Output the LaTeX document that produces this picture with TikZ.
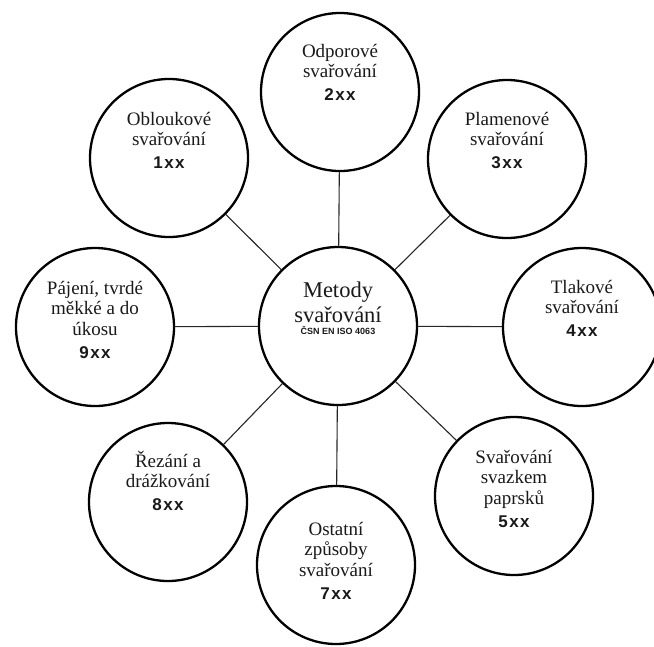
\documentclass[tikz,border=0pt]{standalone}
\usepackage{fontspec}
\setmainfont{Liberation Serif}
\newfontfamily\codefont[LetterSpace=8]{Liberation Sans}
\newfontfamily\normfont{Liberation Sans}

\tikzset{
  method/.style={circle, draw=black, line width=2.3pt, minimum size=158pt, inner sep=0pt},
  link/.style={line width=1.1pt, draw=black!85},
  caption/.style={anchor=base, inner sep=0pt, text=black!90},
}
% multi-line caption: first baseline is the node's base
\newcommand\mlines[1]{\parbox[t]{150pt}{\centering\fontsize{19}{20.5}\selectfont #1}}
\newcommand\code[1]{{\codefont\bfseries\fontsize{17}{20.5}\selectfont #1}}

\begin{document}
\begin{tikzpicture}[x=1pt, y=-1pt]
\useasboundingbox (0,0) rectangle (654,646);

% circles
\node[method] (c0) at (338,326) {};
\node[method] (c1) at (169,158) {};
\node[method] (c2) at (340,92)  {};
\node[method] (c3) at (507,159) {};
\node[method] (c4) at (582,327) {};
\node[method] (c5) at (514,496) {};
\node[method] (c7) at (336,565) {};
\node[method] (c8) at (168,502) {};
\node[method] (c9) at (95,327)  {};

% spokes
\foreach \k in {1,2,3,4,5,7,8,9}
  \draw[link] (c0) -- (c\k);

% captions
\node[caption, yshift=29pt] (t0) at (c0) {\parbox[t]{150pt}{\centering
  \fontsize{22.5}{25}\selectfont Metody\\svařování\\[-13pt]%
  {\normfont\bfseries\fontsize{9}{12}\selectfont ČSN EN ISO 4063}}};
\node[caption, yshift=33pt] (t1) at (c1) {\mlines{Obloukové\\svařování\\[2pt]\code{1xx}}};
\node[caption, yshift=35pt] (t2) at (c2) {\mlines{Odporové\\svařování\\[2pt]\code{2xx}}};
\node[caption, yshift=34pt] (t3) at (c3) {\mlines{Plamenové\\svařování\\[2pt]\code{3xx}}};
\node[caption, yshift=34pt] (t4) at (c4) {\mlines{Tlakové\\svařování\\[2pt]\code{4xx}}};
\node[caption, yshift=33pt] (t5) at (c5) {\mlines{Svařování\\svazkem\\paprsků\\[3pt]\code{5xx}}};
\node[caption, yshift=30pt] (t7) at (c7) {\mlines{Ostatní\\způsoby\\svařování\\[3pt]\code{7xx}}};
\node[caption, yshift=35pt] (t8) at (c8) {\mlines{Řezání a\\drážkování\\[2pt]\code{8xx}}};
\node[caption, yshift=33pt] (t9) at (c9) {\mlines{Pájení, tvrdé\\měkké a do\\úkosu\\[3pt]\code{9xx}}};
\end{tikzpicture}
\end{document}
